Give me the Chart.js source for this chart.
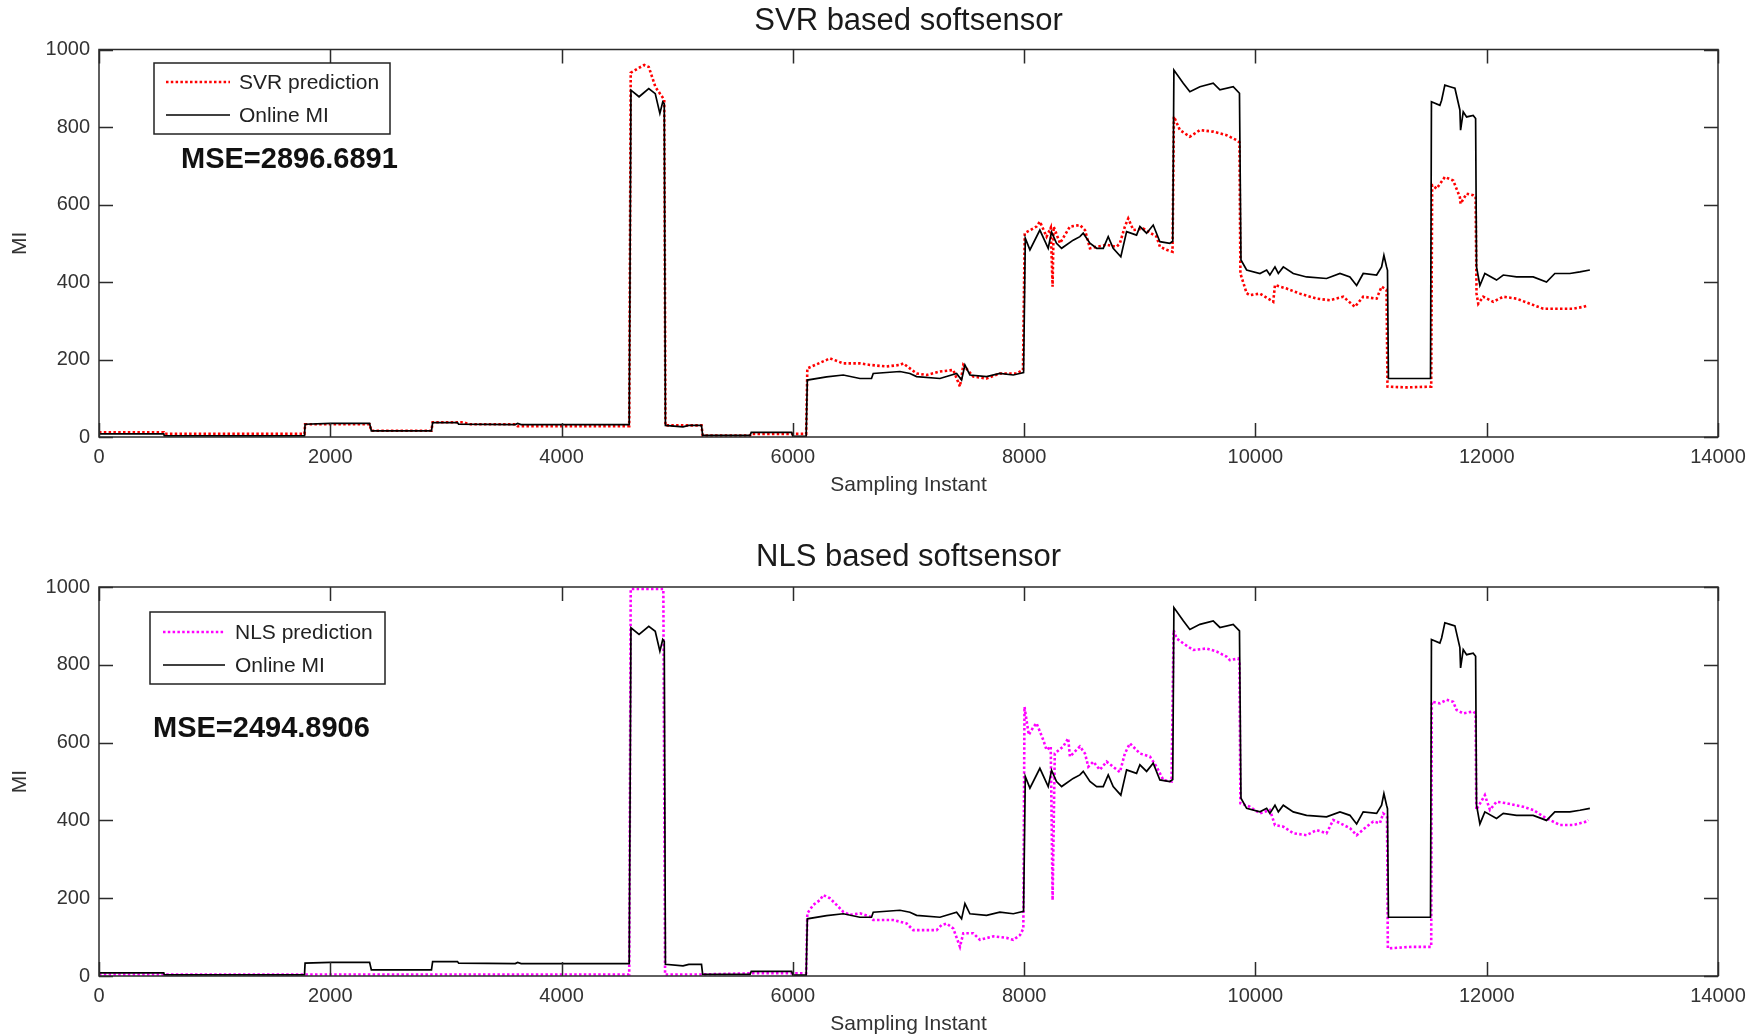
<!DOCTYPE html>
<html>
<head>
<meta charset="utf-8">
<title>SVR / NLS softsensor</title>
<script src="https://cdn.jsdelivr.net/npm/chart.js@4.4.0/dist/chart.umd.min.js"></script>
<style>
  html, body { margin: 0; padding: 0; background: #fff; }
  #page { position: relative; width: 1763px; height: 1035px; }
  .panel { position: absolute; left: 0; width: 1763px; }
  #top { top: 0; height: 510px; }
  #bottom { top: 510px; height: 525px; }
</style>
</head>
<body>
<div id="page">
  <div class="panel" id="top"><canvas id="svr-chart"></canvas></div>
  <div class="panel" id="bottom"><canvas id="nls-chart"></canvas></div>
</div>
<script>
const FONT = '"Liberation Sans", Arial, sans-serif';

// axis ticks
const xTickValues = [0, 2000, 4000, 6000, 8000, 10000, 12000, 14000];
const yTickValues = [0, 200, 400, 600, 800, 1000];

// measured MI (same in both panels)
const onlineX = [
    0, 560, 565, 1777, 1782, 2000, 2340, 2355, 2875, 2885, 3100, 3110, 3600, 3620, 3650, 4585,
    4600, 4670, 4754, 4810, 4850, 4875, 4888, 4898, 5050, 5100, 5210, 5220, 5630, 5640, 5990, 6000,
    6115, 6125, 6292, 6436, 6580, 6680, 6695, 6926, 7012, 7070, 7272, 7416, 7459, 7488, 7531, 7675,
    7790, 7906, 7995, 8010, 8050, 8136, 8208, 8237, 8280, 8324, 8424, 8482, 8511, 8569, 8627, 8684,
    8727, 8770, 8836, 8886, 8972, 9001, 9059, 9116, 9174, 9260, 9285, 9295, 9376, 9433, 9520, 9635,
    9693, 9808, 9862, 9875, 9924, 10039, 10097, 10125, 10169, 10198, 10241, 10327, 10442, 10615, 10731, 10817,
    10875, 10932, 11048, 11091, 11111, 11134, 11142, 11150, 11514, 11522, 11595, 11610, 11638, 11682, 11725, 11768,
    11774, 11797, 11826, 11883, 11904, 11912, 11941, 11984, 12085, 12143, 12258, 12402, 12517, 12589, 12719, 12806,
    12892
];
const onlineMI = [
    8, 8, 3, 3, 33, 35, 35, 16, 16, 37, 37, 33, 32, 35, 32, 32,
    895, 878, 899, 886, 835, 865, 860, 30, 26, 30, 30, 4, 4, 12, 12, 2,
    2, 147, 155, 160, 151, 151, 164, 169, 164, 156, 151, 164, 147, 186, 160, 156,
    164, 160, 166, 513, 483, 534, 487, 529, 500, 487, 508, 517, 526, 500, 487, 487,
    517, 487, 465, 530, 521, 543, 526, 547, 504, 500, 505, 947, 913, 891, 904, 913,
    896, 904, 887, 457, 431, 422, 431, 418, 439, 422, 439, 422, 413, 409, 422, 413,
    391, 422, 418, 439, 469, 439, 430, 151, 151, 865, 856, 869, 908, 904, 900, 844,
    792, 839, 826, 830, 822, 439, 391, 422, 405, 418, 413, 413, 400, 422, 422, 426,
    431
];

// SVR prediction
const svrX = [
    0, 560, 565, 1777, 1782, 2340, 2355, 2875, 2885, 3150, 3200, 3600, 3620, 4585, 4598, 4660,
    4715, 4754, 4812, 4870, 4888, 4898, 5210, 5220, 5630, 5640, 6115, 6125, 6292, 6320, 6436, 6580,
    6666, 6810, 6926, 6955, 7070, 7157, 7272, 7387, 7445, 7474, 7560, 7675, 7790, 7935, 7990, 8005,
    8107, 8136, 8194, 8230, 8246, 8255, 8310, 8396, 8482, 8526, 8569, 8627, 8713, 8800, 8828, 8871,
    8900, 8944, 9030, 9145, 9174, 9231, 9283, 9295, 9347, 9433, 9520, 9635, 9750, 9837, 9862, 9870,
    9924, 9952, 10039, 10111, 10154, 10169, 10270, 10385, 10529, 10644, 10760, 10860, 10932, 11048, 11091, 11134,
    11142, 11300, 11520, 11528, 11567, 11638, 11710, 11768, 11774, 11826, 11883, 11904, 11912, 11927, 11970, 12056,
    12143, 12258, 12373, 12489, 12748, 12835, 12878
];
const svrPred = [
    12, 12, 8, 8, 33, 33, 16, 16, 38, 38, 33, 33, 28, 28, 940, 951,
    960, 955, 903, 878, 870, 30, 30, 4, 4, 8, 8, 177, 199, 203, 190, 190,
    186, 182, 186, 190, 164, 160, 169, 173, 130, 186, 156, 151, 164, 164, 173, 526,
    543, 556, 517, 540, 388, 543, 500, 543, 547, 534, 487, 491, 496, 491, 500, 543,
    564, 534, 538, 517, 491, 483, 478, 827, 792, 775, 792, 788, 779, 766, 760, 422,
    371, 366, 370, 357, 349, 392, 383, 370, 357, 353, 362, 336, 362, 357, 388, 380,
    130, 128, 130, 650, 641, 671, 662, 619, 602, 628, 624, 620, 370, 344, 362, 349,
    362, 357, 344, 331, 331, 336, 340
];

// NLS prediction
const nlsX = [
    0, 4585, 4598, 4880, 4895, 5210, 5640, 6115, 6125, 6177, 6234, 6263, 6320, 6378, 6436, 6494,
    6580, 6666, 6695, 6868, 6984, 7041, 7243, 7286, 7330, 7387, 7445, 7474, 7560, 7618, 7733, 7848,
    7906, 7964, 7993, 8003, 8040, 8080, 8107, 8165, 8194, 8230, 8246, 8265, 8338, 8381, 8396, 8482,
    8526, 8555, 8598, 8655, 8713, 8828, 8871, 8915, 9001, 9088, 9145, 9203, 9275, 9292, 9318, 9376,
    9462, 9577, 9664, 9750, 9779, 9851, 9862, 9870, 9952, 10039, 10125, 10169, 10241, 10327, 10442, 10529,
    10615, 10673, 10731, 10817, 10875, 10961, 11019, 11077, 11105, 11138, 11145, 11350, 11520, 11525, 11595, 11653,
    11710, 11739, 11797, 11883, 11904, 11910, 11984, 12028, 12085, 12172, 12316, 12402, 12489, 12633, 12748, 12863,
    12878
];
const nlsPred = [
    4, 4, 995, 995, 4, 4, 7, 7, 161, 183, 195, 208, 200, 183, 165, 157,
    161, 153, 144, 144, 135, 118, 118, 131, 135, 122, 75, 110, 110, 93, 102, 98,
    93, 105, 122, 692, 620, 640, 650, 607, 581, 590, 195, 572, 590, 611, 564, 590,
    572, 538, 551, 530, 551, 524, 572, 598, 572, 564, 538, 504, 500, 889, 868, 855,
    838, 842, 834, 821, 812, 816, 810, 444, 435, 418, 427, 388, 384, 367, 362, 375,
    367, 401, 393, 380, 362, 384, 397, 393, 418, 410, 71, 75, 75, 705, 701, 710,
    705, 684, 675, 680, 675, 427, 465, 427, 448, 444, 435, 427, 410, 388, 388, 397,
    401
];

function toPoints(xs, ys) {
    return xs.map((x, i) => ({ x: x, y: ys[i] }));
}

// MATLAB style box, inward ticks, boxed legend and MSE note
const frameAndLegend = {
    id: 'frameAndLegend',
    afterDatasetsDraw(chart, args, opts) {
        const ctx = chart.ctx;
        const area = chart.chartArea;
        const xScale = chart.scales.x;
        const yScale = chart.scales.y;
        const tickLen = 14;

        ctx.save();
        ctx.strokeStyle = '#2b2b2b';
        ctx.lineWidth = 1.5;
        ctx.setLineDash([]);
        ctx.strokeRect(area.left, area.top, area.right - area.left, area.bottom - area.top);

        ctx.beginPath();
        xScale.ticks.forEach(t => {
            const px = Math.round(xScale.getPixelForValue(t.value)) + 0.5;
            ctx.moveTo(px, area.bottom);
            ctx.lineTo(px, area.bottom - tickLen);
            ctx.moveTo(px, area.top);
            ctx.lineTo(px, area.top + tickLen);
        });
        yScale.ticks.forEach(t => {
            const py = Math.round(yScale.getPixelForValue(t.value)) + 0.5;
            ctx.moveTo(area.left, py);
            ctx.lineTo(area.left + tickLen, py);
            ctx.moveTo(area.right, py);
            ctx.lineTo(area.right - tickLen, py);
        });
        ctx.stroke();

        // legend box
        const lx = area.left + opts.left;
        const ly = area.top + opts.top;
        ctx.fillStyle = '#fff';
        ctx.fillRect(lx, ly, opts.width, opts.height);
        ctx.strokeStyle = '#222';
        ctx.lineWidth = 1.5;
        ctx.strokeRect(lx, ly, opts.width, opts.height);

        ctx.font = '21px ' + FONT;
        ctx.textBaseline = 'middle';
        ctx.textAlign = 'left';
        opts.order.forEach((dsIndex, row) => {
            const ds = chart.data.datasets[dsIndex];
            const y = ly + opts.rowTop + row * opts.rowGap;
            ctx.strokeStyle = ds.borderColor;
            ctx.lineWidth = ds.borderWidth;
            ctx.setLineDash(ds.borderDash || []);
            ctx.beginPath();
            ctx.moveTo(lx + opts.sampleFrom, y);
            ctx.lineTo(lx + opts.sampleTo, y);
            ctx.stroke();
            ctx.setLineDash([]);
            ctx.fillStyle = '#222';
            ctx.fillText(ds.label, lx + opts.textX, y + 1);
        });

        // MSE note
        ctx.font = 'bold 29px ' + FONT;
        ctx.fillStyle = '#111';
        ctx.fillText(opts.mse, area.left + opts.mseX, area.top + opts.mseY);
        ctx.restore();
    }
};

function makeChart(canvasId, cfg) {
    return new Chart(document.getElementById(canvasId), {
        type: 'line',
        data: {
            datasets: [
                {
                    label: 'Online MI',
                    data: toPoints(onlineX, onlineMI),
                    borderColor: '#000000',
                    borderWidth: 1.7,
                    pointRadius: 0,
                    tension: 0,
                },
                {
                    label: cfg.predLabel,
                    data: toPoints(cfg.predX, cfg.predY),
                    borderColor: cfg.color,
                    borderWidth: 2.6,
                    borderDash: [2.5, 2.3],
                    pointRadius: 0,
                    tension: 0,
                }
            ]
        },
        options: {
            responsive: true,
            maintainAspectRatio: false,
            animation: false,
            layout: { padding: { left: 0, right: 45, top: 0, bottom: 0 } },
            plugins: {
                legend: { display: false },
                tooltip: { enabled: false },
                title: {
                    display: true,
                    text: cfg.title,
                    fullSize: false,
                    color: '#1a1a1a',
                    font: { family: FONT, size: 31, weight: 'normal', lineHeight: 1.2 },
                    padding: cfg.titlePadding,
                },
                frameAndLegend: cfg.legend,
            },
            scales: {
                x: {
                    type: 'linear',
                    min: 0,
                    max: 14000,
                    afterBuildTicks: scale => { scale.ticks = xTickValues.map(v => ({ value: v })); },
                    afterFit: scale => { scale.height = cfg.xAxisHeight; },
                    grid: { display: false, drawTicks: false },
                    border: { display: false },
                    ticks: {
                        color: '#333',
                        font: { family: FONT, size: 20 },
                        padding: 8,
                        maxRotation: 0,
                        autoSkip: false,
                        callback: v => String(v),
                    },
                    title: {
                        display: true,
                        text: 'Sampling Instant',
                        color: '#333',
                        font: { family: FONT, size: 21, lineHeight: 1 },
                        padding: { top: 0, bottom: cfg.xTitleBottom },
                    },
                },
                y: {
                    min: 0,
                    max: 1000,
                    afterBuildTicks: scale => { scale.ticks = yTickValues.map(v => ({ value: v })); },
                    afterFit: scale => { scale.width = 99; },
                    grid: { display: false, drawTicks: false },
                    border: { display: false },
                    ticks: {
                        color: '#333',
                        font: { family: FONT, size: 20 },
                        padding: 9,
                        callback: v => String(v),
                    },
                    title: {
                        display: true,
                        text: 'MI',
                        color: '#333',
                        font: { family: FONT, size: 21, lineHeight: 1.2 },
                        padding: { top: 7.4, bottom: 0 },
                    },
                },
            },
        },
        plugins: [frameAndLegend],
    });
}

makeChart('svr-chart', {
    title: 'SVR based softsensor',
    predLabel: 'SVR prediction',
    predX: svrX,
    predY: svrPred,
    color: '#ff0000',
    titlePadding: { top: 2.4, bottom: 9.9 },
    xAxisHeight: 73,
    xTitleBottom: 14,
    legend: {
        left: 55, top: 13.5, width: 236, height: 71,
        sampleFrom: 12, sampleTo: 76, textX: 85, rowTop: 19, rowGap: 33,
        order: [1, 0],
        mse: 'MSE=2896.6891', mseX: 82, mseY: 110.5,
    },
});

makeChart('nls-chart', {
    title: 'NLS based softsensor',
    predLabel: 'NLS prediction',
    predX: nlsX,
    predY: nlsPred,
    color: '#ff00ff',
    titlePadding: { top: 28.4, bottom: 11.4 },
    xAxisHeight: 59,
    xTitleBottom: 0,
    legend: {
        left: 51, top: 25, width: 235, height: 72,
        sampleFrom: 13, sampleTo: 75, textX: 85, rowTop: 20, rowGap: 33,
        order: [1, 0],
        mse: 'MSE=2494.8906', mseX: 54, mseY: 142,
    },
});
</script>
</body>
</html>
